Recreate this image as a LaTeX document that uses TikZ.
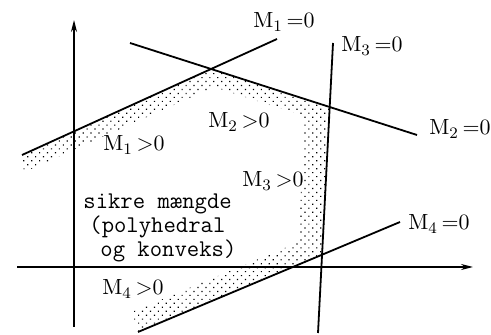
\documentclass[tikz,border=0pt]{standalone}
\usepackage{amsmath}
\usepackage{tikz}
\usetikzlibrary{arrows.meta,patterns.meta}
\tikzset{
  maxis/.style={-{Stealth[length=6pt,width=3pt]},line width=0.8pt},
  mline/.style={line width=0.9pt},
  mband/.style={pattern={Dots[distance=2.8pt,radius=0.42pt,angle=45]}},
  mlabel/.style={font=\fontsize{11}{12}\selectfont,inner sep=0pt},
  msetlabel/.style={font=\ttfamily\fontsize{12}{11}\selectfont,align=left,inner sep=0pt}
}

\begin{document}
\begin{tikzpicture}[x=0.5pt,y=-0.5pt]
  \path[use as bounding box] (0,0) rectangle (491,335);

  % ends of the four boundary lines
  \coordinate (m1a) at (22,155);  \coordinate (m1b) at (277,39);
  \coordinate (m2a) at (130,43);  \coordinate (m2b) at (417,135);
  \coordinate (m3a) at (333,43);  \coordinate (m3b) at (318,333);
  \coordinate (m4a) at (138,332); \coordinate (m4b) at (400,222);
  % corners of the safe set and of the inner edge of the band
  \coordinate (c12) at (212,69);  \coordinate (c23) at (330,107);
  \coordinate (c34) at (323,253);
  \coordinate (i4) at (132,312);  \coordinate (i34) at (299,242);
  \coordinate (i23) at (304,116); \coordinate (i12) at (214,87);
  \coordinate (i1) at (24,172);

  \fill[mband] (m1a) -- (c12) -- (c23) -- (c34) -- (m4a) -- (i4) -- (i34)
    -- (i23) -- (i12) -- (i1) -- cycle;

  % axes
  \coordinate (yaxb) at (74,327);  \coordinate (yaxt) at (74,20);
  \coordinate (xaxl) at (17,267);  \coordinate (xaxr) at (473,267);
  \draw[maxis] (yaxb) -- (yaxt);
  \draw[maxis] (xaxl) -- (xaxr);

  \draw[mline] (m1a) -- (m1b);
  \draw[mline] (m2a) -- (m2b);
  \draw[mline] (m3a) -- (m3b);
  \draw[mline] (m4a) -- (m4b);

  \node[mlabel] (m1zero) at (284,22)  {$\mathrm{M}_1\,{=}0$};
  \node[mlabel] (m3zero) at (372,46)  {$\mathrm{M}_3\,{=}0$};
  \node[mlabel] (m2zero) at (460,129) {$\mathrm{M}_2\,{=}0$};
  \node[mlabel] (m4zero) at (439,224) {$\mathrm{M}_4\,{=}0$};
  \node[mlabel] (m1pos) at (134,145) {$\mathrm{M}_1\,{>}0$};
  \node[mlabel] (m2pos) at (239,122) {$\mathrm{M}_2\,{>}0$};
  \node[mlabel] (m3pos) at (273,181) {$\mathrm{M}_3\,{>}0$};
  \node[mlabel] (m4pos) at (133,289) {$\mathrm{M}_4\,{>}0$};

  \node[msetlabel,anchor=north west] (safeset) at (83,193)
    {sikre mængde\\\hspace*{3pt}(polyhedral\\\hspace*{8.5pt}og konveks)};
\end{tikzpicture}
\end{document}
